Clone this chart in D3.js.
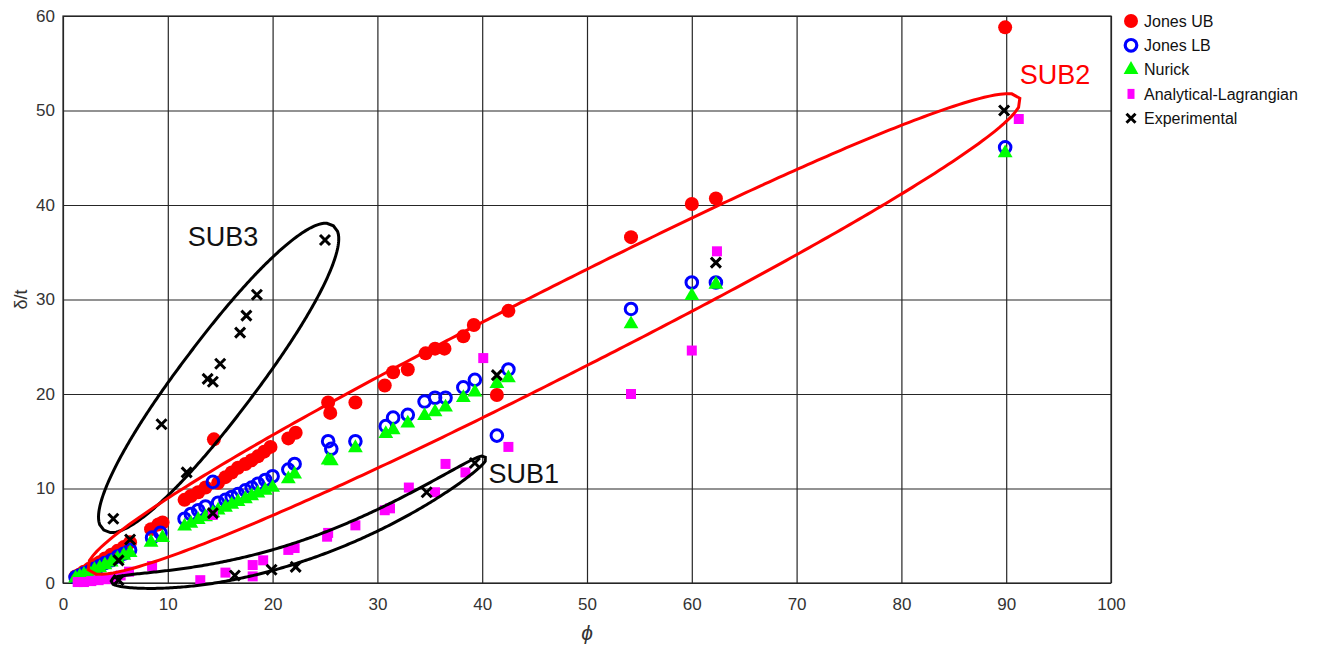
<!DOCTYPE html>
<html>
<head>
<meta charset="utf-8">
<script src="https://cdn.jsdelivr.net/npm/d3@7"></script>
<style>
  body { margin: 0; background: #fff; }
  text { font-family: "Liberation Sans", Arial, sans-serif; }
</style>
</head>
<body>
<svg id="chart" width="1344" height="648"></svg>
<script>
const xTicks = [0, 10, 20, 30, 40, 50, 60, 70, 80, 90, 100]
const yTicks = [0, 10, 20, 30, 40, 50, 60]

// Jones UB
const ubPhi = [89.9, 62.3, 60.0, 54.2, 42.5, 41.4, 39.2, 38.2, 36.4, 35.5, 34.6, 32.9, 31.5, 30.7, 27.9, 25.3, 25.5, 22.2, 21.5,
  19.8, 19.2, 18.6, 18.0, 17.4, 16.7, 16.1, 15.5, 14.8, 14.4, 13.6, 12.9, 12.2, 11.6, 9.5, 9.1, 8.4,
  6.4, 5.8, 5.2, 4.6, 4.0, 3.5, 3.0, 2.5, 2.0, 1.6, 1.2]
const ubDelta = [58.8, 40.7, 40.1, 36.6, 28.8, 19.9, 27.3, 26.1, 24.8, 24.8, 24.3, 22.6, 22.3, 20.9, 19.1, 19.1, 18.0, 15.9, 15.3,
  14.4, 13.9, 13.4, 13.0, 12.6, 12.2, 11.7, 11.2, 10.6, 15.2, 10.1, 9.6, 9.2, 8.8, 6.4, 6.2, 5.7,
  4.3, 3.8, 3.4, 3.0, 2.6, 2.2, 1.9, 1.5, 1.2, 0.9, 0.7]

// Jones LB
const lbPhi = [89.9, 62.3, 60.0, 54.2, 42.5, 41.4, 39.3, 38.2, 36.5, 35.5, 34.5, 32.9, 31.5, 30.8, 27.9, 25.3, 25.6, 22.1, 21.5,
  20.0, 19.3, 18.6, 18.0, 17.4, 16.7, 16.1, 15.5, 14.8, 14.3, 13.6, 12.9, 12.2, 11.6, 9.3, 8.5,
  6.4, 5.8, 5.2, 4.6, 4.0, 3.5, 3.0, 2.5, 2.0, 1.6, 1.2]
const lbDelta = [46.1, 31.8, 31.8, 29.0, 22.6, 15.6, 21.5, 20.7, 19.6, 19.6, 19.2, 17.8, 17.5, 16.6, 15.0, 15.0, 14.2, 12.6, 12.0,
  11.3, 10.9, 10.5, 10.1, 9.8, 9.4, 9.1, 8.8, 8.5, 10.7, 8.1, 7.7, 7.3, 6.8, 5.3, 4.8,
  3.5, 3.1, 2.8, 2.4, 2.1, 1.8, 1.5, 1.2, 1.0, 0.8, 0.6]

// Nurick
const nuPhi = [89.9, 62.3, 60.0, 54.2, 42.5, 41.4, 39.3, 38.2, 36.5, 35.5, 34.5, 32.9, 31.5, 30.8, 27.9, 25.3, 25.6, 22.1, 21.5,
  20.0, 19.3, 18.6, 18.0, 17.4, 16.7, 16.1, 15.5, 14.8, 14.3, 13.6, 12.9, 12.2, 11.6, 9.5, 8.4,
  6.4, 5.8, 5.2, 4.6, 4.0, 3.5, 3.0, 2.5, 2.0, 1.6, 1.2]
const nuDelta = [45.5, 31.6, 30.4, 27.4, 21.7, 21.1, 20.2, 19.6, 18.6, 18.1, 17.7, 16.9, 16.2, 15.8, 14.3, 13.0, 12.9, 11.5, 11.0,
  10.1, 9.8, 9.5, 9.2, 8.9, 8.6, 8.3, 8.0, 7.7, 7.4, 7.0, 6.7, 6.3, 6.0, 4.8, 4.3,
  3.2, 2.9, 2.6, 2.2, 1.9, 1.6, 1.4, 1.1, 0.9, 0.7, 0.5]

// Analytical-Lagrangian
const alPhi = [91.2, 62.4, 60.0, 54.2, 40.1, 42.5, 38.4, 36.5, 35.5, 33.0, 31.2, 30.7, 27.9, 25.3, 25.2, 22.1, 21.5,
  19.1, 18.1, 18.1, 15.5, 13.1, 14.3, 8.5, 6.3, 5.5, 4.8, 4.1, 3.4, 2.7, 2.0, 1.4]
const alDelta = [49.1, 35.1, 24.6, 20.0, 23.8, 14.4, 11.7, 12.6, 9.6, 10.1, 7.9, 7.7, 6.1, 5.3, 4.9, 3.7, 3.5,
  2.4, 1.9, 0.7, 1.1, 0.3, 7.2, 1.8, 1.2, 0.8, 0.5, 0.4, 0.3, 0.2, 0.1, 0.1]

// Experimental
const exPhi = [89.8, 62.3, 41.4, 39.3, 34.7, 25.0, 18.5, 17.5, 16.9, 15.0, 13.8, 14.3, 9.4, 11.8, 4.8, 14.3, 6.4, 5.3, 5.3, 16.4, 19.9, 22.2]
const exDelta = [50.0, 33.9, 22.0, 12.7, 9.6, 36.3, 30.5, 28.3, 26.5, 23.2, 21.6, 21.3, 16.8, 11.7, 6.8, 7.4, 4.6, 2.4, 0.3, 0.8, 1.4, 1.7]

// annotation groups: tips and bend point of the enclosing outlines, in data units
const groupNames = ["SUB3", "SUB2", "SUB1"]
const groupTipA = [[3.9, 5.6], [2.4, 1.4], [4.6, 0.2]]
const groupBend = [[14.85, 21.7], [46.85, 26.35], [22.6, -0.2]]
const groupTipB = [[25.8, 37.8], [91.3, 51.3], [40.3, 13.3]]
const groupLabelAt = [[11.9, 35.7], [91.3, 52.8], [40.6, 10.6]]

const w = 1344
const h = 648

const svg = d3.select("#chart")

const x = d3.scaleLinear().domain([0, 100]).range([63, 1111])
const y = d3.scaleLinear().domain([0, 60]).range([583, 16])

const gridColor = "#262626"

// grid + tick labels
const xAxis = svg
  .append("g")
  .attr("transform", `translate(0,${y(0)})`)
  .call(
    d3.axisBottom(x).tickValues(xTicks).tickSize(-(y(0) - y(60))).tickSizeOuter(0).tickPadding(15)
  )
xAxis.select(".domain").remove()
xAxis.selectAll("line").attr("stroke", gridColor).attr("stroke-width", 1.2)
xAxis.selectAll("text").attr("font-size", 17).attr("fill", "#333").attr("font-family", "Liberation Sans, Arial")

const yAxis = svg
  .append("g")
  .attr("transform", `translate(${x(0)},0)`)
  .call(
    d3.axisLeft(y).tickValues(yTicks).tickSize(-(x(100) - x(0))).tickSizeOuter(0).tickPadding(8)
  )
yAxis.select(".domain").remove()
yAxis.selectAll("line").attr("stroke", gridColor).attr("stroke-width", 1.2)
yAxis.selectAll("text").attr("font-size", 17).attr("fill", "#333").attr("font-family", "Liberation Sans, Arial")

svg
  .append("rect")
  .attr("x", x(0))
  .attr("y", y(60))
  .attr("width", x(100) - x(0))
  .attr("height", y(0) - y(60))
  .attr("fill", "none")
  .attr("stroke", gridColor)
  .attr("stroke-width", 1.2)

// axis titles
svg
  .append("text")
  .attr("x", (x(0) + x(100)) / 2)
  .attr("y", 640)
  .attr("text-anchor", "middle")
  .attr("font-size", 21)
  .attr("font-style", "italic")
  .attr("font-family", "DejaVu Serif, serif")
  .attr("fill", "#333")
  .text("ϕ")

svg
  .append("text")
  .attr("transform", `translate(27,${(y(0) + y(60)) / 2}) rotate(-90)`)
  .attr("text-anchor", "middle")
  .attr("font-size", 18)
  .attr("font-family", "DejaVu Serif, serif")
  .attr("fill", "#333")
  .text("δ/t")

const zip = (a, b) => a.map((v, i) => [v, b[i]])

const triangle = d3.symbol().type(d3.symbolTriangle).size(95)
const square = d3.symbol().type(d3.symbolSquare).size(100)
const cross = "M-5,-5L5,5M-5,5L5,-5"

// Jones UB
svg.append("g")
  .selectAll("circle")
  .data(zip(ubPhi, ubDelta))
  .enter()
  .append("circle")
  .attr("cx", (d) => x(d[0]))
  .attr("cy", (d) => y(d[1]))
  .attr("r", 7)
  .attr("fill", "#ff0000")

// Jones LB
svg.append("g")
  .selectAll("circle")
  .data(zip(lbPhi, lbDelta))
  .enter()
  .append("circle")
  .attr("cx", (d) => x(d[0]))
  .attr("cy", (d) => y(d[1]))
  .attr("r", 5.8)
  .attr("fill", "none")
  .attr("stroke", "#0000ff")
  .attr("stroke-width", 3)

// Nurick
svg.append("g")
  .selectAll("path")
  .data(zip(nuPhi, nuDelta))
  .enter()
  .append("path")
  .attr("d", triangle)
  .attr("transform", (d) => `translate(${x(d[0])},${y(d[1])})`)
  .attr("fill", "#00ff00")

// Analytical-Lagrangian
svg.append("g")
  .selectAll("path")
  .data(zip(alPhi, alDelta))
  .enter()
  .append("path")
  .attr("d", square)
  .attr("transform", (d) => `translate(${x(d[0])},${y(d[1])})`)
  .attr("fill", "#ff00ff")

// Experimental
svg.append("g")
  .selectAll("path")
  .data(zip(exPhi, exDelta))
  .enter()
  .append("path")
  .attr("d", cross)
  .attr("transform", (d) => `translate(${x(d[0])},${y(d[1])})`)
  .attr("stroke", "#000")
  .attr("stroke-width", 3)

// group outlines: a band around a quadratic centre line, closed at the tips
const groupHalfWidth = [38, 43, 10]
const groupRound = [2.2, 2.2, 3]
const groupColor = ["#000", "#ff0000", "#000"]

const outline = (i) => {
  const p0 = [x(groupTipA[i][0]), y(groupTipA[i][1])]
  const p1 = [x(groupBend[i][0]), y(groupBend[i][1])]
  const p2 = [x(groupTipB[i][0]), y(groupTipB[i][1])]
  const pr = groupRound[i]
  const upper = []
  const lower = []
  d3.range(0, 1.0001, 0.005).forEach((t) => {
    const u = 1 - t
    const cx = u * u * p0[0] + 2 * u * t * p1[0] + t * t * p2[0]
    const cy = u * u * p0[1] + 2 * u * t * p1[1] + t * t * p2[1]
    const tx = 2 * u * (p1[0] - p0[0]) + 2 * t * (p2[0] - p1[0])
    const ty = 2 * u * (p1[1] - p0[1]) + 2 * t * (p2[1] - p1[1])
    const len = Math.hypot(tx, ty)
    const s = Math.abs(2 * t - 1)
    const hw = groupHalfWidth[i] * Math.pow(Math.max(0, 1 - Math.pow(s, pr)), 1 / pr)
    upper.push([cx + (ty / len) * hw, cy - (tx / len) * hw])
    lower.push([cx - (ty / len) * hw, cy + (tx / len) * hw])
  })
  return d3.line().curve(d3.curveLinearClosed)(upper.concat(lower.reverse()))
}

groupNames.forEach((name, i) => {
  svg
    .append("path")
    .attr("d", outline(i))
    .attr("fill", "none")
    .attr("stroke", groupColor[i])
    .attr("stroke-width", 3)

  svg
    .append("text")
    .attr("x", x(groupLabelAt[i][0]))
    .attr("y", y(groupLabelAt[i][1]))
    .attr("font-family", "DejaVu Sans, sans-serif")
    .attr("font-size", 27)
    .attr("fill", groupColor[i] == "#000" ? "#111" : "#ff0000")
    .text(name)
})

// legend
const legendNames = ["Jones UB", "Jones LB", "Nurick", "Analytical-Lagrangian", "Experimental"]
const legend = svg.append("g").attr("transform", "translate(1131,21)")
const row = (i) => legend.append("g").attr("transform", `translate(0,${i * 24.3})`)

row(0).append("circle").attr("r", 7).attr("fill", "#ff0000")
row(1).append("circle").attr("r", 5.8).attr("fill", "none").attr("stroke", "#0000ff").attr("stroke-width", 3.2)
row(2).append("path").attr("d", triangle).attr("fill", "#00ff00")
row(3).append("rect").attr("x", -3.5).attr("y", -5).attr("width", 7).attr("height", 10).attr("fill", "#ff00ff")
row(4).append("path").attr("d", "M-4.5,-4.5L4.5,4.5M-4.5,4.5L4.5,-4.5").attr("stroke", "#000").attr("stroke-width", 3)

legend
  .selectAll("text")
  .data(legendNames)
  .enter()
  .append("text")
  .attr("x", 13)
  .attr("y", (d, i) => i * 24.3)
  .attr("dy", "0.36em")
  .attr("font-size", 16)
  .attr("fill", "#111")
  .text((d) => d)
</script>
</body>
</html>
